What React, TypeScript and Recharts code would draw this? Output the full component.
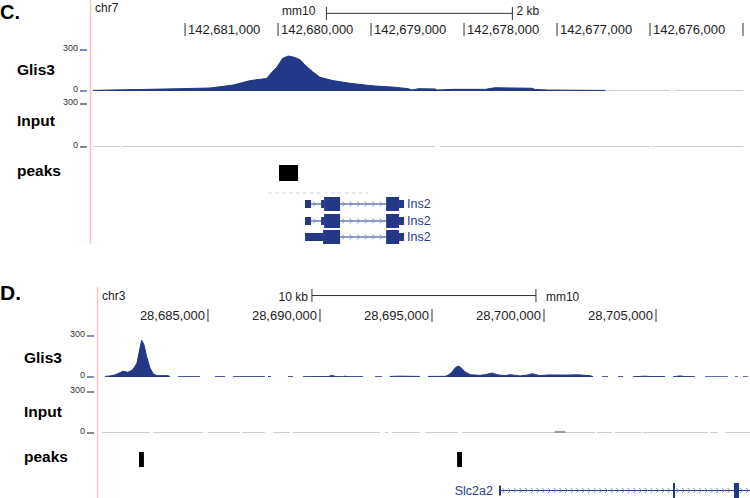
import { AreaChart, Area, ComposedChart, XAxis, YAxis, ReferenceArea, ReferenceLine } from 'recharts';

const FONT = '"Liberation Sans", Arial, Helvetica, sans-serif';
const NAVY = '#233886';
const NAVY_LIGHT = '#8e9bcc';
const CHEVRON = '#7385c9';
const GENE_TEXT = '#2b3d91';
const INPUT_GRAY = '#9c9c9c';
const PINK = '#f6c4c4';

type Pt = [number, number | null];
type Block = [number, number, string];

// ---------- panel C : chr7 (drawn right-to-left) ----------
const C_DOMAIN: [number, number] = [142675000, 142681990];
const C_TICKS = [142681000, 142680000, 142679000, 142678000, 142677000, 142676000, 142675000];
const C_TICK_LABELS = ['142,681,000', '142,680,000', '142,679,000', '142,678,000', '142,677,000', '142,676,000', ''];
const C_SCALEBAR = [142679480, 142677480]; // 2 kb

const glis3C: Pt[] = [
  [142681990, 4], [142681810, 7], [142681410, 12], [142681050, 17], [142680730, 22],
  [142680480, 44], [142680300, 76], [142680120, 92], [142680090, 118], [142680010, 178],
  [142679950, 239], [142679890, 256], [142679820, 246], [142679760, 227], [142679710, 190],
  [142679630, 142], [142679550, 100], [142679410, 76], [142679230, 57], [142679040, 42],
  [142678960, 37], [142678740, 27], [142678600, 17], [142678560, 7], [142678490, 17],
  [142678310, 15], [142678290, 7], [142678130, 12], [142677770, 12], [142677670, 24],
  [142677270, 20], [142677240, 12], [142677100, 7], [142676480, 4],
];
const glis3CLow: Pt[] = [
  [142676480, 0], [142675790, 0], [142675760, null], [142675730, 0], [142675000, 0],
];
const inputC: Pt[] = [
  [142681990, 0], [142681700, 0], [142681690, null], [142681680, 0], [142678310, 0],
  [142678285, null], [142678260, 0], [142676000, 0], [142675985, null], [142675970, 0], [142675000, 0],
];
const peaksC: [number, number][] = [[142679990, 142679785]];
const ghostC: [number, number] = [142680110, 142679030];
const ins2Span: [number, number] = [142679710, 142678645];
const ins2Tx1: Block[] = [
  [142679710, 142679645, 'utr'], [142679537, 142679505, 'utr'], [142679505, 142679333, 'cds'],
  [142678838, 142678699, 'cds'], [142678699, 142678645, 'utr'],
];
const ins2Tx2: Block[] = [
  [142679710, 142679645, 'utr'], [142679537, 142679505, 'utr'], [142679505, 142679333, 'cds'],
  [142678838, 142678699, 'cds'], [142678699, 142678645, 'utr'],
];
const ins2Tx3: Block[] = [
  [142679710, 142679516, 'utr'], [142679516, 142679333, 'cds'],
  [142678838, 142678699, 'cds'], [142678699, 142678645, 'utr'],
];

// ---------- panel D : chr3 ----------
const D_DOMAIN: [number, number] = [28680180, 28709195];
const D_TICKS = [28685000, 28690000, 28695000, 28700000, 28705000];
const D_TICK_LABELS = ['28,685,000', '28,690,000', '28,695,000', '28,700,000', '28,705,000'];
const D_SCALEBAR = [28689640, 28699640]; // 10 kb

const glis3D: Pt[] = [
  [28680400, 4], [28680630, 8], [28680850, 15], [28681210, 42], [28681430, 34], [28681650, 54],
  [28681830, 102], [28681920, 176], [28682040, 268], [28682140, 237], [28682260, 151],
  [28682410, 66], [28682550, 24], [28682720, 10], [28682990, 10], [28683210, 10], [28683300, 4],
  [28683480, null],
  [28683660, 2], [28684640, 2], [28684980, null],
  [28685310, 2], [28685760, 2], [28685960, null],
  [28686120, 2], [28687540, 2], [28687610, null],
  [28687680, 3], [28687810, 3], [28688200, null],
  [28688570, 2], [28688800, 2], [28689000, null],
  [28689240, 2], [28690400, 3], [28690450, 10], [28690580, 10], [28690710, 3], [28691000, 2],
  [28691120, 6], [28691250, 2], [28691920, 2], [28692200, null],
  [28692460, 2], [28692770, 2], [28692950, null],
  [28693120, 4], [28693500, 6], [28694000, 5], [28694460, 4], [28694600, null],
  [28694820, 4], [28695580, 5], [28695710, 12], [28695890, 35], [28696030, 66], [28696160, 80],
  [28696290, 70], [28696470, 38], [28696700, 17], [28697140, 12], [28697370, 17], [28697680, 29],
  [28697900, 17], [28698260, 10], [28698480, 17], [28698930, 8], [28699290, 15], [28699460, 24],
  [28699820, 10], [28700200, 15], [28701000, 14], [28701500, 16], [28702050, 10], [28702190, 3],
  [28702400, null],
  [28702590, 2], [28702860, 2], [28703000, null],
  [28703300, 2], [28703530, 2], [28703700, null],
  [28703970, 2], [28704510, 6], [28704800, 3], [28705400, 3], [28705580, null],
  [28705760, 2], [28706070, 8], [28706300, 3], [28706740, 2], [28706970, null],
  [28707190, 1], [28708210, 1], [28708350, null],
  [28708520, 1], [28708660, 1], [28708780, null],
  [28708880, 1], [28709100, 1],
];
const inputD: Pt[] = [
  [28680270, 0], [28682410, 0], [28682480, null],
  [28682550, 0], [28684780, 0], [28684890, null],
  [28685000, 0], [28686430, 0], [28686470, null],
  [28686520, 0], [28687540, 0], [28687720, null],
  [28687900, 0], [28688660, 0], [28688720, null],
  [28688790, 0], [28692680, 0], [28692790, null],
  [28692900, 0], [28693040, 0], [28693120, null],
  [28693210, 0], [28694460, 0], [28694570, null],
  [28694690, 0], [28696160, 0], [28696250, null],
  [28696340, 0], [28700490, 0], [28700500, 12], [28700930, 12], [28700940, 0], [28702280, 0],
  [28702320, null],
  [28702370, 0], [28703040, 0], [28703100, null],
  [28703170, 0], [28704370, 0], [28704395, null],
  [28704420, 0], [28707320, 0], [28707365, null],
  [28707410, 0], [28707770, 0], [28707920, null],
  [28708080, 0], [28709195, 0],
];
const peaksD: [number, number][] = [[28681920, 28682140], [28696120, 28696340]];
const slc2a2Span: [number, number] = [28697990, 28709195];
const slc2a2Tx: Block[] = [
  [28697990, 28698080, 'utr'], [28705758, 28705847, 'cds'], [28708481, 28708704, 'cds'],
];

// merge series on position so each row carries every key (missing -> null gap)
function buildRows(parts: Record<string, Pt[]>) {
  const keys = Object.keys(parts);
  const byPos = new Map<number, any>();
  for (const key of keys) {
    for (const [pos, v] of parts[key]) {
      if (!byPos.has(pos)) {
        const row: any = { pos };
        keys.forEach((k) => (row[k] = null));
        byPos.set(pos, row);
      }
      byPos.get(pos)[key] = v;
    }
  }
  return [...byPos.values()].sort((a, b) => a.pos - b.pos);
}

function rulerTick(p: any, ruler: any) {
  const i = ruler.ticks.indexOf(p.payload.value);
  const after = ruler.side === 'after';
  return (
    <g>
      <line x1={p.x} x2={p.x} y1={p.y - 27} y2={p.y - 14} stroke="#333" strokeWidth={1} />
      <text x={after ? p.x + 3 : p.x - 3} y={p.y - 16} textAnchor={after ? 'start' : 'end'}
        fontSize={13} fontFamily={FONT} fill="#222">{ruler.labels[i] ?? ''}</text>
    </g>
  );
}

function valueTick(p: any, color: string) {
  return (
    <g>
      <text x={p.x - 15} y={p.y + 0.5} textAnchor="end" fontSize={9} fontFamily={FONT} fill="#333">
        {p.payload.value}
      </text>
      <line x1={p.x - 13} x2={p.x - 6} y1={p.y} y2={p.y} stroke={color} strokeWidth={1.3} />
    </g>
  );
}

function scaleBarShape(p: any, bar: any) {
  const xa = Math.min(p.x1, p.x2);
  const xb = Math.max(p.x1, p.x2);
  const y = p.y1;
  return (
    <g>
      <line x1={xa} x2={xb} y1={y} y2={y} stroke="#333" />
      <line x1={xa} x2={xa} y1={y - 6.5} y2={y + 6.5} stroke="#333" />
      <line x1={xb} x2={xb} y1={y - 6.5} y2={y + 6.5} stroke="#333" />
      <text x={xa - bar.gapL} y={y + bar.dy} textAnchor="end" fontSize={12} fontFamily={FONT} fill="#222">{bar.left}</text>
      <text x={xb + bar.gapR} y={y + bar.dy} textAnchor="start" fontSize={12} fontFamily={FONT} fill="#222">{bar.right}</text>
    </g>
  );
}

function intronShape(p: any, step: number, dashed: boolean, lineColor: string) {
  const xa = Math.min(p.x1, p.x2);
  const xb = Math.max(p.x1, p.x2);
  const y = p.y1;
  if (dashed) {
    return <line x1={xa} x2={xb} y1={y} y2={y} stroke="#e1e3ec" strokeWidth={1.5} strokeDasharray="4 3" />;
  }
  let d = '';
  for (let cx = xa + step / 2; cx < xb - 1; cx += step) {
    d += `M${cx - 1.5},${y - 2.5}L${cx + 1},${y}L${cx - 1.5},${y + 2.5}`;
  }
  return (
    <g>
      <line x1={xa} x2={xb} y1={y} y2={y} stroke={lineColor} strokeWidth={1} />
      <path d={d} stroke={CHEVRON} strokeWidth={0.9} fill="none" />
    </g>
  );
}

function SignalTrack({ left, right, top, bottom, padTop = 10, domain, reversed = false, rows, series, tickColor, ruler, scaleBar }: any) {
  const padBottom = 3;
  return (
    <div style={{ position: 'absolute', left: 0, top: top - padTop }}>
      <AreaChart width={750} height={bottom - top + padTop + padBottom} data={rows}
        margin={{ top: padTop - 1, right: 750 - right, bottom: padBottom, left: 0 }}>
        <XAxis type="number" dataKey="pos" domain={domain} reversed={reversed} allowDataOverflow
          orientation="top" height={1} hide={!ruler} ticks={ruler ? ruler.ticks : undefined} interval={0}
          axisLine={false} tickLine={false} tickSize={0} tickMargin={0}
          tick={ruler ? (p: any) => rulerTick(p, ruler) : false} />
        <YAxis type="number" domain={[0, 300]} ticks={[0, 300]} interval={0} width={left} allowDataOverflow
          axisLine={false} tickLine={false} tickSize={0} tickMargin={0}
          tick={(p: any) => valueTick(p, tickColor)} />
        {series.map((s: any) => (
          <Area key={s.key} dataKey={s.key} type="linear" stroke={s.stroke} strokeWidth={1}
            fill={s.fill} fillOpacity={1} connectNulls={false} dot={false} activeDot={false}
            isAnimationActive={false} />
        ))}
        {scaleBar && (
          <ReferenceLine ifOverflow="visible"
            segment={[{ x: scaleBar.from, y: scaleBar.level }, { x: scaleBar.to, y: scaleBar.level }]}
            shape={(p: any) => scaleBarShape(p, scaleBar)} />
        )}
      </AreaChart>
    </div>
  );
}

function FeatureTrack({ left, right, center, band, domain, reversed = false, blocks, heights, color, span, step = 7, dashed = false, label, labelSide = 'right' }: any) {
  const pad = 9;
  const sorted: Block[] = [...blocks].sort((a, b) => Math.min(a[0], a[1]) - Math.min(b[0], b[1]));
  const introns: [number, number][] = [];
  if (span) {
    let cur = Math.min(span[0], span[1]);
    for (const b of sorted) {
      const lo = Math.min(b[0], b[1]);
      const hi = Math.max(b[0], b[1]);
      if (lo > cur) introns.push([cur, lo]);
      cur = Math.max(cur, hi);
    }
    const end = Math.max(span[0], span[1]);
    if (end > cur) introns.push([cur, end]);
  }
  const labelBlock = sorted.length
    ? ((labelSide === 'right') === reversed ? sorted[0] : sorted[sorted.length - 1])
    : null;
  const data = [...sorted.map((b) => ({ pos: b[0] })), ...(span ? [{ pos: span[0] }, { pos: span[1] }] : [])];
  return (
    <div style={{ position: 'absolute', left: 0, top: center - band / 2 - pad }}>
      <ComposedChart width={750} height={band + pad * 2} data={data}
        margin={{ top: pad, bottom: pad, left, right: 750 - right }}>
        <XAxis type="number" dataKey="pos" domain={domain} reversed={reversed} hide allowDataOverflow />
        <YAxis type="number" domain={[-1, 1]} hide allowDataOverflow />
        {introns.map(([a, b], i) => (
          <ReferenceLine key={`i${i}`} ifOverflow="visible" segment={[{ x: a, y: 0 }, { x: b, y: 0 }]}
            shape={(p: any) => intronShape(p, step, dashed, color)} />
        ))}
        {sorted.map((b, i) => {
          const h = heights[b[2]] / band;
          return (
            <ReferenceArea key={`b${i}`} x1={b[0]} x2={b[1]} y1={-h} y2={h} ifOverflow="visible"
              fill={color} fillOpacity={1} stroke="none"
              label={label && b === labelBlock ? {
                value: label, position: labelSide, offset: labelSide === 'right' ? 3 : 6,
                fill: GENE_TEXT, fontSize: 12.5, fontFamily: FONT,
              } : undefined} />
          );
        })}
      </ComposedChart>
    </div>
  );
}

const trackLabel = { fontFamily: FONT, fontWeight: 700, fontSize: 15.5, fill: '#000' } as const;

export default function App() {
  const cRuler = { ticks: C_TICKS, labels: C_TICK_LABELS, side: 'after' };
  const dRuler = { ticks: D_TICKS, labels: D_TICK_LABELS, side: 'before' };
  const C = { left: 93, right: 743, domain: C_DOMAIN, reversed: true };
  const D = { left: 100, right: 750, domain: D_DOMAIN, reversed: false };
  const ins2 = { ...C, band: 14, heights: { utr: 8, cds: 14 }, color: NAVY, span: ins2Span, step: 7.5, label: 'Ins2', labelSide: 'right' };

  return (
    <div style={{ position: 'absolute', left: 0, top: 0, width: 750, height: 498, background: '#fff', overflow: 'hidden' }}>
      <svg width={750} height={498} style={{ position: 'absolute', left: 0, top: 0 }}>
        <line x1={90.5} x2={90.5} y1={0} y2={244} stroke={PINK} strokeWidth={1.5} />
        <line x1={97.5} x2={97.5} y1={287} y2={498} stroke={PINK} strokeWidth={1.5} />
        <text x={0} y={19} fontFamily={FONT} fontWeight={700} fontSize={20}>C.</text>
        <text x={95} y={12} fontFamily={FONT} fontSize={12} fill="#222">chr7</text>
        <text x={17} y={74.5} {...trackLabel}>Glis3</text>
        <text x={17} y={126} {...trackLabel}>Input</text>
        <text x={17} y={176} {...trackLabel}>peaks</text>
        <text x={0} y={300} fontFamily={FONT} fontWeight={700} fontSize={21}>D.</text>
        <text x={102} y={300} fontFamily={FONT} fontSize={12} fill="#222">chr3</text>
        <text x={24} y={363} {...trackLabel}>Glis3</text>
        <text x={24} y={417} {...trackLabel}>Input</text>
        <text x={24} y={462} {...trackLabel}>peaks</text>
      </svg>

      {/* panel C */}
      <SignalTrack {...C} top={50} bottom={91} padTop={50} tickColor="#3a50a8" ruler={cRuler}
        rows={buildRows({ v: glis3C, low: glis3CLow })}
        series={[{ key: 'v', stroke: NAVY, fill: NAVY }, { key: 'low', stroke: NAVY_LIGHT, fill: 'none' }]}
        scaleBar={{ from: C_SCALEBAR[0], to: C_SCALEBAR[1], level: 568, left: 'mm10', right: '2 kb', gapL: 11, gapR: 4, dy: 2 }} />
      <SignalTrack {...C} top={105} bottom={147} tickColor="#444"
        rows={buildRows({ v: inputC })} series={[{ key: 'v', stroke: INPUT_GRAY, fill: INPUT_GRAY }]} />
      <FeatureTrack {...C} center={173} band={16} heights={{ peak: 16 }} color="#000"
        blocks={peaksC.map(([a, b]) => [a, b, 'peak'])} />
      <FeatureTrack {...C} center={193} band={2} heights={{}} color="#ccc" blocks={[]} span={ghostC} dashed />
      <FeatureTrack {...ins2} center={204} blocks={ins2Tx1} />
      <FeatureTrack {...ins2} center={220.5} blocks={ins2Tx2} />
      <FeatureTrack {...ins2} center={237} blocks={ins2Tx3} />

      {/* panel D */}
      <SignalTrack {...D} top={336} bottom={377} padTop={51} tickColor="#3a50a8" ruler={dRuler}
        rows={buildRows({ v: glis3D })} series={[{ key: 'v', stroke: NAVY, fill: NAVY }]}
        scaleBar={{ from: D_SCALEBAR[0], to: D_SCALEBAR[1], level: 596, left: '10 kb', right: 'mm10', gapL: 4, gapR: 10, dy: 5 }} />
      <SignalTrack {...D} top={393} bottom={433} tickColor="#444"
        rows={buildRows({ v: inputD })} series={[{ key: 'v', stroke: INPUT_GRAY, fill: INPUT_GRAY }]} />
      <FeatureTrack {...D} center={459.5} band={15} heights={{ peak: 15 }} color="#000"
        blocks={peaksD.map(([a, b]) => [a, b, 'peak'])} />
      <FeatureTrack {...D} center={490} band={15} heights={{ utr: 10, cds: 15 }} color={NAVY}
        blocks={slc2a2Tx} span={slc2a2Span} step={5.7} label="Slc2a2" labelSide="left" />
    </div>
  );
}
